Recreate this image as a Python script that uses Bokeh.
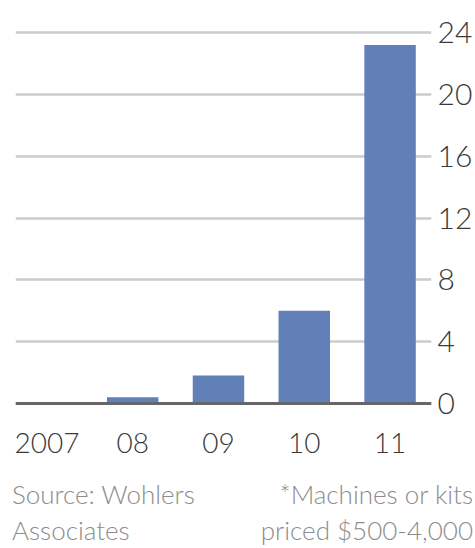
from bokeh.plotting import figure
from bokeh.models import FixedTicker, Span, Range1d, Div
from bokeh.layouts import column
from bokeh.embed import file_html
from bokeh.resources import INLINE

years = ["2007", "08", "09", "10", "11"]
sales = [0.05, 0.4, 1.8, 6.0, 23.2]   # thousands of units (approx.)
y_ticks = [0, 4, 8, 12, 16, 20, 24]
source_lines = ["Source: Wohlers", "Associates"]
note_lines = ["*Machines or kits", "priced $500-4,000"]

FONT = "'Lato Light', Lato"
xs = list(range(len(years)))

p = figure(width=475, height=470, output_backend="svg", toolbar_location=None,
           x_range=Range1d(-0.366, 4.483), y_range=Range1d(-0.2, 24.2),
           y_axis_location="right", min_border_left=15, min_border_top=29,
           min_border_bottom=64, min_border_right=43)
p.outline_line_color = None
p.background_fill_color = "white"
p.border_fill_color = "white"

p.vbar(x=xs, top=sales, width=0.6, bottom=0, fill_color="#6180b8", line_color=None)

p.xgrid.grid_line_color = None
p.ygrid.grid_line_color = "#cccccc"
p.ygrid.grid_line_width = 2.5
p.ygrid.ticker = FixedTicker(ticks=y_ticks)

p.add_layout(Span(location=0, dimension="width", line_color="#666666", line_width=3))

ya = p.yaxis[0]
ya.ticker = FixedTicker(ticks=y_ticks)
ya.axis_line_color = None
ya.major_tick_line_color = None
ya.minor_tick_line_color = None
ya.major_label_standoff = 0
ya.major_label_text_font = FONT
ya.major_label_text_font_size = "30px"
ya.major_label_text_color = "#3a3a3a"

xa = p.xaxis[0]
xa.ticker = FixedTicker(ticks=xs)
xa.major_label_overrides = {i: y for i, y in enumerate(years)}
xa.axis_line_color = None
xa.major_tick_line_color = None
xa.minor_tick_line_color = None
xa.major_label_standoff = 20
xa.major_label_text_font = FONT
xa.major_label_text_font_size = "28px"
xa.major_label_text_color = "#3a3a3a"

# footnotes below the chart
foot_html = (
    "<div style=\"box-sizing:border-box;display:flex;justify-content:space-between;width:473px;"
    "font-family:'Lato Light',Lato,sans-serif;font-size:26px;color:#8c8c8c;"
    "line-height:36px;padding:6px 0 0 12px;white-space:nowrap;\">"
    "<div style=\"text-align:left\">" + "<br>".join(source_lines) + "</div>"
    "<div style=\"text-align:right\">" + "<br>".join(note_lines) + "</div>"
    "</div>"
)
foot = Div(text=foot_html, width=475, height=78, margin=0)

layout = column(p, foot, spacing=0)
open("out.html", "w").write(file_html(layout, INLINE))
